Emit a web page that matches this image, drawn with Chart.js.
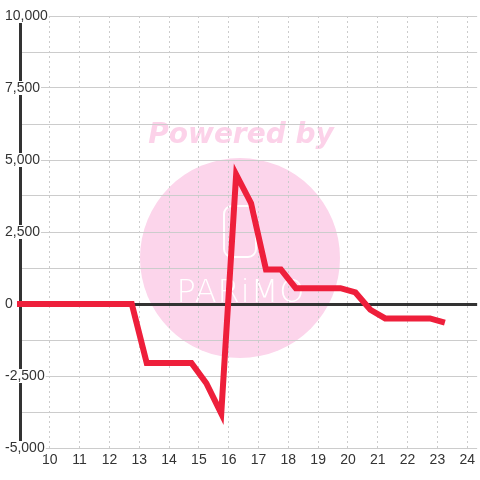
<!DOCTYPE html>
<html>
<head>
<meta charset="UTF-8" />
<title>Chart</title>
<script src="https://cdn.jsdelivr.net/npm/chart.js"></script>
<style>
    body { margin: 0; background: #fff; }
    canvas { display: block; }
</style>
</head>
<body>
<canvas id="chart" width="480" height="480"></canvas>
<script>
    // half-hour samples (hour of day) and values
    const hours = [8.75, 9.25, 9.75, 10.25, 10.75, 11.25, 11.75, 12.25, 12.75, 13.25,
        13.75, 14.25, 14.75, 15.25, 15.75, 16.25, 16.75, 17.25, 17.75, 18.25,
        18.75, 19.25, 19.75, 20.25, 20.75, 21.25, 21.75, 22.25, 22.75, 23.25];
    const values = [0, 0, 0, 0, 0, 0, 0, 0, 0, -2050,
        -2050, -2050, -2050, -2750, -3800, 4500, 3500, 1200, 1200, 550,
        550, 550, 550, 400, -200, -500, -500, -500, -500, -650];
    const xTicks = [10, 11, 12, 13, 14, 15, 16, 17, 18, 19, 20, 21, 22, 23, 24];
    const yLabels = [-5000, -2500, 0, 2500, 5000, 7500, 10000];

    // watermark behind the chart
    const watermark = {
        id: 'watermark',
        beforeDraw(chart) {
            const c = chart.ctx;
            c.save();
            c.fillStyle = '#fcd5eb';
            c.beginPath();
            c.arc(240, 258, 100, 0, Math.PI * 2);
            c.fill();
            c.fillStyle = '#fcd2e9';
            c.font = 'italic bold 28px "DejaVu Sans"';
            c.textAlign = 'center';
            c.textBaseline = 'alphabetic';
            c.fillText('Powered by', 241, 143);
            c.strokeStyle = '#fff';
            c.lineWidth = 2;
            c.beginPath();
            c.roundRect(224, 206, 32, 51, 8);
            c.stroke();
            c.fillStyle = '#fff';
            c.font = '200 32px "DejaVu Sans"';
            c.letterSpacing = '1px';
            c.fillText('PARiMO', 241, 302);
            c.restore();
        }
    };

    new Chart(document.getElementById('chart'), {
        type: 'line',
        data: {
            datasets: [{
                data: hours.map((h, i) => ({ x: h, y: values[i] })),
                borderColor: '#ee1f3b',
                borderWidth: 6,
                pointRadius: 0,
                tension: 0,
                clip: 3,
            }],
        },
        options: {
            responsive: false,
            animation: false,
            layout: { padding: { left: 5, top: 16, right: 0, bottom: 0 } },
            plugins: { legend: { display: false }, tooltip: { enabled: false } },
            scales: {
                x: {
                    type: 'linear',
                    min: 9,
                    max: 24 + 1 / 3,
                    afterBuildTicks: s => { s.ticks = xTicks.map(v => ({ value: v })); },
                    afterFit: s => { s.height = 32; },
                    grid: { color: '#ccc', lineWidth: 1, drawTicks: false },
                    border: { display: false, dash: [2, 3] },
                    ticks: {
                        padding: 5,
                        color: '#333',
                        font: { family: '"Liberation Sans", Arial, sans-serif', size: 14, lineHeight: 1 },
                        maxRotation: 0,
                    },
                },
                y: {
                    min: -5000,
                    max: 10000,
                    afterFit: s => { s.width = 15; },
                    grid: {
                        drawTicks: false,
                        color: ctx => ctx.tick.value === 0 ? '#333' : '#ccc',
                        lineWidth: ctx => ctx.tick.value === 0 ? 3 : 1,
                    },
                    border: { display: true, color: '#333', width: 3 },
                    ticks: {
                        stepSize: 1250,
                        mirror: true,
                        crossAlign: 'near',
                        padding: -15,
                        color: '#333',
                        font: { family: '"Liberation Sans", Arial, sans-serif', size: 14, lineHeight: 1 },
                        showLabelBackdrop: true,
                        backdropColor: '#fff',
                        backdropPadding: { left: 1, right: 1, top: 0, bottom: 0 },
                        callback: v => yLabels.includes(v) ? v.toLocaleString('en-US') : '',
                    },
                },
            },
        },
        plugins: [watermark],
    });
</script>
</body>
</html>
